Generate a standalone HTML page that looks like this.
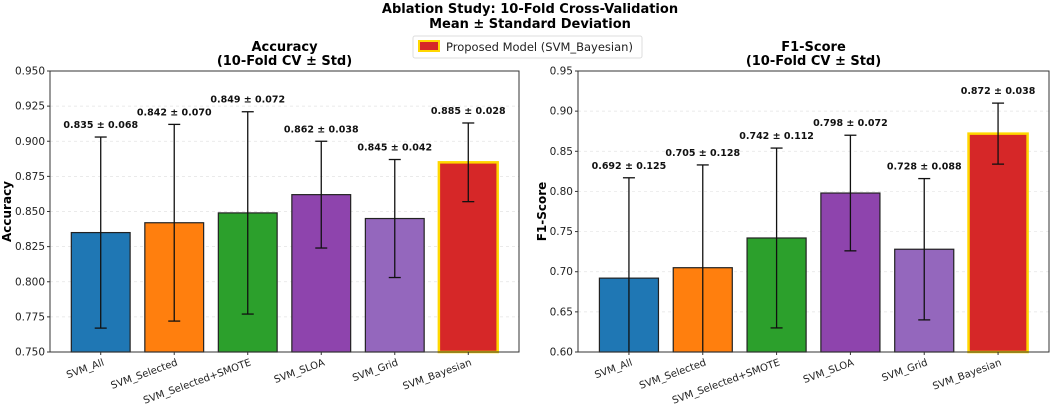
<!DOCTYPE html>
<html><head><meta charset="utf-8"><style>
body{margin:0;background:#fff;}
svg{display:block;font-family:"DejaVu Sans","Liberation Sans",sans-serif;}
</style></head><body>
<svg id="chart" width="1059" height="404" viewBox="0 0 1059 404">
<text x="530" y="13" text-anchor="middle" font-size="13" font-weight="bold">Ablation Study: 10-Fold Cross-Validation</text>
<text x="530" y="28" text-anchor="middle" font-size="13" font-weight="bold">Mean ± Standard Deviation</text>
<g>
<rect x="413" y="36" width="229" height="22" rx="2" fill="#fff" stroke="#ddd"/>
<rect x="419" y="41" width="20" height="10" fill="#d62728" stroke="#ffd700" stroke-width="2"/>
<text x="446" y="51" font-size="11.5" fill="#222">Proposed Model (SVM_Bayesian)</text>
</g>
</svg>
<script>
const categories=["SVM_All","SVM_Selected","SVM_Selected+SMOTE","SVM_SLOA","SVM_Grid","SVM_Bayesian"];
const colors=["#1f77b4","#ff7f0e","#2ca02c","#8e44ad","#9467bd","#d62728"];
const accMean=[0.835,0.842,0.849,0.862,0.845,0.885];
const accStd=[0.068,0.070,0.072,0.038,0.042,0.028];
const f1Mean=[0.692,0.705,0.742,0.798,0.728,0.872];
const f1Std=[0.125,0.128,0.112,0.072,0.088,0.038];
const accTicks=[0.750,0.775,0.800,0.825,0.850,0.875,0.900,0.925,0.950];
const f1Ticks=[0.60,0.65,0.70,0.75,0.80,0.85,0.90,0.95];
const NS="http://www.w3.org/2000/svg";
const svg=document.getElementById("chart");
function mk(tag,attrs,parent,text){const e=document.createElementNS(NS,tag);for(const k in attrs)e.setAttribute(k,attrs[k]);if(text!==undefined)e.textContent=text;(parent||svg).appendChild(e);return e;}
function panel(cfg){
 const g=mk("g",{});
 
 
 const L=cfg.x0,R=cfg.x1,T=71,B=352;
 const lo=cfg.ticks[0],hi=cfg.ticks[cfg.ticks.length-1];
 const y=v=>B-(v-lo)/(hi-lo)*(B-T);
 const step=(R-L)/6.38;
 const x=i=>L+(i+0.69)*step;
 const bw=0.8*step;
 cfg.ticks.forEach((t,i)=>{
  const yy=y(t);
  if(i>0&&i<cfg.ticks.length-1){const gl=mk("line",{x1:L,x2:R,y1:yy,y2:yy,stroke:"#e3e3e3","stroke-width":0.7,"stroke-dasharray":"3,3"},g);
  
  }
  mk("line",{x1:L-3,x2:L,y1:yy,y2:yy,stroke:"#333"},g);
  const tl=mk("text",{x:L-5,y:yy+3.5,"text-anchor":"end","font-size":"10.5",fill:"#222"},g,t.toFixed(cfg.dec));
  
  
 });
 cfg.mean.forEach((m,i)=>{
  const cx=x(i);
  const isBest=i===5;
  const b=mk("rect",{x:cx-bw/2,y:y(m),width:bw,height:B-y(m),fill:colors[i],stroke:isBest?"#ffd700":"#222","stroke-width":isBest?2.5:1.2},g);
  
  
  const top=m+cfg.std[i],bot=Math.max(m-cfg.std[i],lo);
  const eb=mk("g",{stroke:"#111","stroke-width":1.3},g);
  
  
  mk("line",{x1:cx,x2:cx,y1:y(top),y2:y(bot)},eb);
  mk("line",{x1:cx-6,x2:cx+6,y1:y(top),y2:y(top)},eb);
  if(m-cfg.std[i]>lo)mk("line",{x1:cx-6,x2:cx+6,y1:y(bot),y2:y(bot)},eb);
  const vl=mk("text",{x:cx,y:y(top)-9,"text-anchor":"middle","font-size":"9.5","font-weight":"bold",fill:"#111"},g,m.toFixed(3)+" ± "+cfg.std[i].toFixed(3));
  
  
  mk("line",{x1:cx,x2:cx,y1:B,y2:B+3,stroke:"#333"},g);
  const xl=mk("text",{x:cx+4,y:B+13,"text-anchor":"end","font-size":"10",fill:"#222",transform:`rotate(-20 ${cx+4} ${B+13})`},g,categories[i]);
  
  
 });
 const fr=mk("rect",{x:L,y:T,width:R-L,height:B-T,fill:"none",stroke:"#333","stroke-width":1},g);
 
 
 const cx=(L+R)/2;
 const t1=mk("text",{x:cx,y:51,"text-anchor":"middle","font-size":"13","font-weight":"bold"},g,cfg.title);
 
 
 const t2=mk("text",{x:cx,y:65,"text-anchor":"middle","font-size":"13","font-weight":"bold"},g,"(10-Fold CV ± Std)");
 
 
 const yt=mk("text",{x:0,y:0,"text-anchor":"middle","font-size":"12","font-weight":"bold",transform:`translate(${cfg.ylx},${(T+B)/2}) rotate(-90)`},g,cfg.ylabel);
 
 
}
panel({name:"accuracy-panel",x0:50,x1:519,ticks:accTicks,dec:3,mean:accMean,std:accStd,title:"Accuracy",ylabel:"Accuracy",ylx:11});
panel({name:"f1-panel",x0:578,x1:1049,ticks:f1Ticks,dec:2,mean:f1Mean,std:f1Std,title:"F1-Score",ylabel:"F1-Score",ylx:546});
</script>
</body></html>
